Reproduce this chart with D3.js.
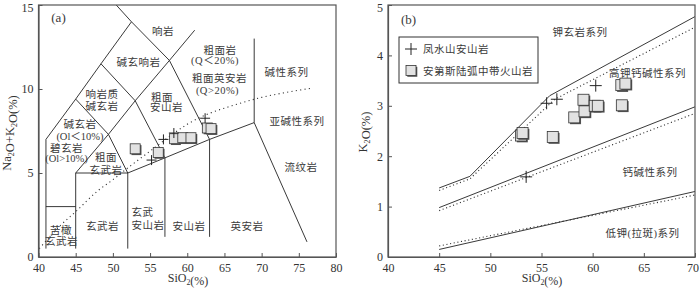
<!DOCTYPE html>
<html><head><meta charset="utf-8">
<script src="https://cdn.jsdelivr.net/npm/d3@7"></script>
<style>body{margin:0;background:#fff}svg{display:block}</style>
</head><body><svg id="c" width="700" height="293"></svg>
<script>
// ---------- DATA ----------
const tasXTicks = [40, 45, 50, 55, 60, 65, 70, 75, 80];
const tasYTicks = [0, 5, 10, 15];
const kXTicks = [40, 45, 50, 55, 60, 65, 70];
const kYTicks = [0, 1, 2, 3, 4, 5];

// TAS field boundaries [SiO2, Na2O+K2O]
const tasBoundaries = [
  [[41, 0.5], [41, 7]],
  [[41, 3], [45, 3]],
  [[45, 0.5], [45, 5], [52, 5], [57, 5.9], [63, 7], [69, 8]],
  [[52, 0.5], [52, 5]],
  [[57, 1.2], [57, 5.9]],
  [[63, 1.2], [63, 7]],
  [[45, 5], [49.4, 7.3], [52, 5]],
  [[41, 7], [45, 9.4], [48.4, 11.5], [52.5, 14], [48.4, 16]],
  [[45, 9.4], [49.4, 7.3]],
  [[49.4, 7.3], [53, 9.3], [57.6, 11.7], [61, 13.5]],
  [[48.4, 11.5], [53, 9.3], [57, 5.9]],
  [[52.5, 14], [57.6, 11.7], [63, 7]],
  [[69, 8], [69, 13]],
  [[69, 8], [76.1, 0.9]]
];
// Irvine & Baragar alkaline / subalkaline divide
const tasIrvine = [[40.1, 0.5], [43, 1.9], [45, 2.7], [48, 3.95], [50, 4.6], [52, 5.3], [55, 6.3], [58, 7.3], [60, 7.9], [63, 8.55], [66, 9.0], [70, 9.5], [74, 9.85], [76.9, 10.06]];
const tasSquares = [[53.0, 6.44], [56.1, 6.22], [58.3, 7.04], [59.4, 7.1], [60.5, 7.1], [62.7, 7.68], [63.2, 7.64]];
const tasCrosses = [[55.2, 5.77], [56.8, 7.0], [58.2, 7.38], [62.4, 8.26]];

// SiO2 - K2O series boundaries
const kSolid = [
  [[45, 1.37], [48, 1.6], [55.8, 3.2], [70, 4.77]],
  [[45, 0.98], [70, 2.98]],
  [[45, 0.15], [70, 1.30]]
];
const kDotted = [
  [[45, 1.32], [48, 1.55], [56.3, 3.13], [70, 4.56]],
  [[45, 0.92], [70, 2.85]],
  [[45, 0.22], [70, 1.23]]
];
const kSquares = [[53.0, 2.41], [53.15, 2.46], [56.1, 2.38], [58.2, 2.77], [59.1, 3.12], [59.2, 2.89], [60.2, 3.0], [60.5, 3.0], [62.85, 3.01], [62.8, 3.41], [63.2, 3.44]];
const kCrosses = [[53.5, 1.59], [55.5, 3.05], [56.5, 3.13], [60.3, 3.4]];

const legendNames = ["凤水山安山岩", "安第斯陆弧中带火山岩"];

// ---------- DRAW ----------
const svg = d3.select("#c");
svg.append("rect").attr("width", 700).attr("height", 293).attr("fill", "#fff");
const FONT = "'Liberation Serif','Times New Roman','Noto Sans CJK SC',serif";
const INK = "#222";

const tasX = d3.scaleLinear([40, 80], [38.5, 336]);
const tasY = d3.scaleLinear([0, 15], [257, 5]);
const kX = d3.scaleLinear([40, 70], [388, 695]);
const kY = d3.scaleLinear([0, 5], [257, 5]);

function axes(x, y, xt, yt) {
  const g = svg.append("g");
  const [x0, x1] = x.range(), [y0, y1] = y.range();
  g.append("rect").attr("x", x0).attr("y", y1).attr("width", x1 - x0).attr("height", y0 - y1)
    .attr("fill", "none").attr("stroke", "#555").attr("stroke-width", 1.2);
  const ax = g.append("g").attr("transform", `translate(0,${y0})`)
    .call(d3.axisBottom(x).tickValues(xt).tickFormat(d3.format("d")).tickSize(-4).tickSizeOuter(0).tickPadding(6));
  const ay = g.append("g").attr("transform", `translate(${x0},0)`)
    .call(d3.axisLeft(y).tickValues(yt).tickFormat(d3.format("d")).tickSize(-4).tickSizeOuter(0).tickPadding(5));
  [ax, ay].forEach(a => {
    a.attr("font-family", FONT).attr("font-size", 12);
    a.select(".domain").attr("stroke", "#555").attr("stroke-width", 1.2);
    a.selectAll(".tick line").attr("stroke", "#555");
    a.selectAll(".tick text").attr("fill", "#333");
  });
  // keep edge labels inside the picture
  ax.selectAll(".tick text").filter(d => x(d) > 690).attr("dx", -2.5);
  ay.selectAll(".tick text").filter(d => y(d) < 10).attr("dy", "0.55em");
  return g;
}

function label(g, text, px, py, opts = {}) {
  return g.append("text").attr("x", px).attr("y", py)
    .attr("font-family", FONT).attr("font-size", opts.size || 10.5)
    .attr("letter-spacing", opts.ls == null ? 0.5 : opts.ls)
    .attr("fill", "#3a3a3a")
    .attr("text-anchor", opts.anchor || "middle")
    .attr("dominant-baseline", "central")
    .text(text);
}

function subText(g, parts, tx, ty, rot, size) {
  const t = g.append("text").attr("font-family", FONT).attr("font-size", size)
    .attr("fill", "#333").attr("text-anchor", "middle")
    .attr("transform", `translate(${tx},${ty}) rotate(${rot})`);
  parts.forEach(p => {
    if (p.sub) {
      t.append("tspan").attr("font-size", size * 0.65).attr("dy", 3).text(p.t);
      t.append("tspan").attr("dy", -3).text("");
    } else t.append("tspan").text(p.t);
  });
}

function squares(g, data, x, y, s) {
  const sg = g.append("g");
  data.forEach(d => {
    const cx = x(d[0]), cy = y(d[1]);
    sg.append("rect").attr("x", cx - s / 2 + 1.3).attr("y", cy - s / 2 + 1.3).attr("width", s).attr("height", s).attr("fill", "#555");
    sg.append("rect").attr("x", cx - s / 2).attr("y", cy - s / 2).attr("width", s).attr("height", s)
      .attr("fill", "#e2e2e2").attr("stroke", "#333").attr("stroke-width", 0.8);
  });
}
function crosses(g, data, x, y, r) {
  g.append("g").selectAll("path").data(data).join("path")
    .attr("d", d => { const cx = x(d[0]), cy = y(d[1]); return `M${cx - r},${cy}H${cx + r}M${cx},${cy - r}V${cy + r}`; })
    .attr("stroke", INK).attr("stroke-width", 1).attr("fill", "none");
}

// ---- Panel (a) ----
const ga = svg.append("g");
svg.append("clipPath").attr("id", "clipA").append("rect")
  .attr("x", 38.5).attr("y", 5).attr("width", 336 - 38.5).attr("height", 252);
const lineA = d3.line().x(d => tasX(d[0])).y(d => tasY(d[1]));
const bA = ga.append("g").attr("clip-path", "url(#clipA)");
bA.selectAll("path.b").data(tasBoundaries).join("path").attr("class", "b")
  .attr("d", lineA).attr("fill", "none").attr("stroke", INK).attr("stroke-width", 0.9);
bA.append("path").attr("d", d3.line().curve(d3.curveMonotoneX).x(d => tasX(d[0])).y(d => tasY(d[1]))(tasIrvine))
  .attr("fill", "none").attr("stroke", "#333").attr("stroke-width", 1.1).attr("stroke-dasharray", "1.1,3.3");
axes(tasX, tasY, tasXTicks, tasYTicks);

const la = svg.append("g");
label(la, "(a)", 58.5, 17, { size: 13, ls: 0 });
label(la, "响岩", 163, 31);
label(la, "碱玄响岩", 138.5, 62.5);
label(la, "响岩质", 102, 94);
label(la, "碱玄岩", 102, 106);
label(la, "粗面", 151, 97.5, { anchor: "start" });
label(la, "安山岩", 150, 107.5, { anchor: "start" });
label(la, "粗面岩", 220, 50);
label(la, "(Q＜20%)", 215, 60.5);
label(la, "粗面英安岩", 219.5, 78);
label(la, "(Q>20%)", 217.5, 90.5);
label(la, "碱性系列", 286.5, 72.5);
label(la, "亚碱性系列", 297, 121);
label(la, "碱玄岩", 80, 124);
label(la, "(Ol＜10%)", 80, 136, { ls: 0 });
label(la, "碧玄岩", 66.5, 148);
label(la, "(Ol>10%)", 66.5, 158.5, { ls: 0 });
label(la, "粗面", 106, 157.5);
label(la, "玄武岩", 106, 170);
label(la, "苦橄", 61, 230.5);
label(la, "玄武岩", 61.5, 241.5);
label(la, "玄武岩", 102.5, 226);
label(la, "玄武", 131.5, 212.5, { anchor: "start" });
label(la, "安山岩", 131.5, 225, { anchor: "start" });
label(la, "安山岩", 189, 226.5);
label(la, "英安岩", 247, 226.5);
label(la, "流纹岩", 301, 167.5);
subText(la, [{ t: "SiO" }, { t: "2", sub: 1 }, { t: "(%)" }], 188, 282, 0, 12);
subText(la, [{ t: "Na" }, { t: "2", sub: 1 }, { t: "O+K" }, { t: "2", sub: 1 }, { t: "O(%)" }], 11, 133, -90, 12.5);

squares(ga, tasSquares, tasX, tasY, 10);
crosses(ga, tasCrosses, tasX, tasY, 5);

// ---- Panel (b) ----
const gb = svg.append("g");
const lineB = d3.line().x(d => kX(d[0])).y(d => kY(d[1]));
gb.selectAll("path.s").data(kSolid).join("path").attr("class", "s")
  .attr("d", lineB).attr("fill", "none").attr("stroke", INK).attr("stroke-width", 0.9);
gb.selectAll("path.d").data(kDotted).join("path").attr("class", "d")
  .attr("d", lineB).attr("fill", "none").attr("stroke", "#333").attr("stroke-width", 1.1).attr("stroke-dasharray", "1.1,2.6");
axes(kX, kY, kXTicks, kYTicks);

const lb = svg.append("g");
label(lb, "(b)", 408.5, 19, { size: 13, ls: 0 });
label(lb, "钾玄岩系列", 580, 32);
label(lb, "高钾钙碱性系列", 647.5, 73);
label(lb, "钙碱性系列", 650, 172);
label(lb, "低钾(拉斑)系列", 642.5, 233.5);
subText(lb, [{ t: "SiO" }, { t: "2", sub: 1 }, { t: "(%)" }], 542, 282, 0, 12);
subText(lb, [{ t: "K" }, { t: "2", sub: 1 }, { t: "O(%)" }], 367, 132, -90, 12.5);

squares(gb, kSquares, kX, kY, 11);
crosses(gb, kCrosses, kX, kY, 6);

// legend
const lg = svg.append("g");
lg.append("rect").attr("x", 399).attr("y", 37).attr("width", 139).attr("height", 46)
  .attr("fill", "#fff").attr("stroke", "#333").attr("stroke-width", 1);
crosses(lg, [[0, 0]], v => 411, v => 49, 6);
squares(lg, [[0, 0]], v => 411, v => 70.5, 10);
legendNames.forEach((n, i) => label(lg, n, 423, i === 0 ? 49 : 71, { anchor: "start" }));
</script></body></html>
